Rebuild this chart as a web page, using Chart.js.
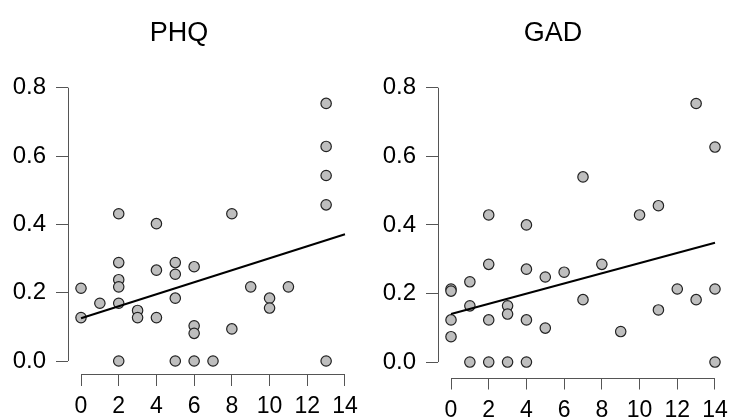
<!DOCTYPE html>
<html>
<head>
<meta charset="utf-8">
<script src="https://cdn.jsdelivr.net/npm/chart.js@4"></script>
<style>
  body { margin: 0; background: #fff; width: 733px; height: 418px; overflow: hidden; position: relative; }
  canvas { position: absolute; top: 0; }
</style>
</head>
<body>
<canvas id="phq" width="368" height="418" style="left:0px"></canvas>
<canvas id="gad" width="366" height="418" style="left:378px"></canvas>
<script>
// values
var xTicks = [0, 2, 4, 6, 8, 10, 12, 14];
var yTicks = [0, 0.2, 0.4, 0.6, 0.8];
var fitX = [0, 14];

var phqX = [0,0,1,2,2,2,2,2,2,3,3,4,4,4,5,5,5,5,6,6,6,6,7,8,8,9,10,10,11,13,13,13,13,13];
var phqY = [0.213,0.127,0.169,0.431,0.288,0.238,0.217,0.169,0,0.148,0.127,0.402,0.266,0.127,0.288,0.254,0.184,0,0.276,0.103,0.081,0,0,0.431,0.094,0.217,0.184,0.155,0.217,0.754,0.628,0.543,0.457,0];
var phqFit = [0.125, 0.371];

var gadX = [0,0,0,0,1,1,1,2,2,2,2,3,3,3,4,4,4,4,5,5,6,7,7,8,9,10,11,11,12,13,13,14,14,14];
var gadY = [0.213,0.207,0.123,0.074,0.234,0.164,0,0.429,0.285,0.123,0,0.164,0.140,0,0.400,0.271,0.123,0,0.248,0.099,0.262,0.540,0.182,0.285,0.089,0.429,0.456,0.152,0.213,0.754,0.182,0.627,0.213,0];
var gadFit = [0.14, 0.348];

const FONT = "'Liberation Sans', Arial, sans-serif";

// R style axes: line only from first to last tick
const axisLines = {
  id: 'axisLines',
  afterDraw(chart) {
    var ctx = chart.ctx, area = chart.chartArea;
    var xs = chart.scales.x, ys = chart.scales.y;
    ctx.save();
    ctx.strokeStyle = '#555';
    ctx.lineWidth = 1;
    ctx.beginPath();
    ctx.moveTo(xs.getPixelForValue(xTicks[0]), Math.round(area.bottom) + 0.5);
    ctx.lineTo(xs.getPixelForValue(xTicks[xTicks.length - 1]), Math.round(area.bottom) + 0.5);
    ctx.moveTo(Math.round(area.left) + 0.5, ys.getPixelForValue(yTicks[0]));
    ctx.lineTo(Math.round(area.left) + 0.5, ys.getPixelForValue(yTicks[yTicks.length - 1]));
    ctx.stroke();
    ctx.restore();
  }
};

function makePanel(id, title, xs, ys, fit, yMin, yMax, yWidth, xHeight, rightPad) {
  var pts = xs.map(function(v, i) { return {x: v, y: ys[i]}; });
  var line = fitX.map(function(v, i) { return {x: v, y: fit[i]}; });
  return new Chart(document.getElementById(id).getContext('2d'), {
    type: 'scatter',
    data: {
      datasets: [{
        type: 'line',
        data: line,
        borderColor: '#000',
        borderWidth: 2,
        pointRadius: 0,
        fill: false,
        order: 0
      }, {
        data: pts,
        backgroundColor: '#bebebe',
        borderColor: '#222',
        borderWidth: 1.2,
        pointRadius: 5.2,
        order: 1
      }]
    },
    options: {
      responsive: false,
      animation: false,
      layout: { padding: { left: 0, right: rightPad, top: 0, bottom: 0 } },
      plugins: {
        legend: { display: false },
        tooltip: { enabled: false },
        title: {
          display: true,
          text: title,
          color: '#000',
          font: { family: FONT, size: 27, weight: 'normal' },
          padding: { top: 17, bottom: 27 }
        }
      },
      scales: {
        x: {
          type: 'linear',
          min: -0.69,
          max: 14.69,
          afterBuildTicks: function(s) { s.ticks = xTicks.map(function(v) { return {value: v}; }); },
          afterFit: function(s) { s.height = xHeight; },
          border: { display: false },
          grid: { display: true, drawOnChartArea: false, drawTicks: true, tickLength: 12, color: '#555', tickColor: '#555' },
          ticks: { color: '#000', padding: 7, maxRotation: 0, autoSkip: false, font: { family: FONT, size: 23 } }
        },
        y: {
          type: 'linear',
          min: yMin,
          max: yMax,
          afterBuildTicks: function(s) { s.ticks = yTicks.map(function(v) { return {value: v}; }); },
          afterFit: function(s) { s.width = yWidth; },
          border: { display: false },
          grid: { display: true, drawOnChartArea: false, drawTicks: true, tickLength: 12, color: '#555', tickColor: '#555' },
          ticks: {
            color: '#000', padding: 10, autoSkip: false,
            font: { family: FONT, size: 24 },
            callback: function(v) { return v.toFixed(1); }
          }
        }
      }
    },
    plugins: [axisLines]
  });
}

makePanel('phq', 'PHQ', phqX, phqY, phqFit, -0.038, 0.833, 68, 44, 10);
makePanel('gad', 'GAD', gadX, gadY, gadFit, -0.045, 0.833, 60, 40.5, 16);
</script>
</body>
</html>
